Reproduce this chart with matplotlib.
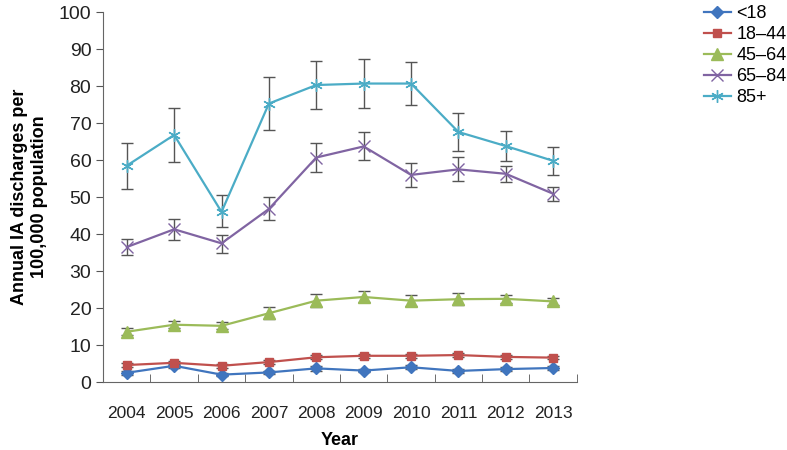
import numpy as np
import matplotlib
matplotlib.use("Agg")
import matplotlib.pyplot as plt

plt.rcParams['font.family'] = ['Liberation Sans', 'DejaVu Sans']

years = ['2004', '2005', '2006', '2007', '2008', '2009', '2010', '2011', '2012', '2013']

u18 = [2.5, 4.4, 2.0, 2.6, 3.7, 3.1, 4.0, 3.0, 3.5, 3.8]
u18_lo = [2.0, 3.8, 1.6, 2.1, 3.1, 2.6, 3.4, 2.5, 3.0, 3.3]
u18_hi = [3.0, 5.0, 2.4, 3.1, 4.3, 3.6, 4.6, 3.5, 4.0, 4.3]

a18 = [4.6, 5.2, 4.4, 5.4, 6.7, 7.1, 7.1, 7.3, 6.8, 6.6]
a18_lo = [4.1, 4.7, 3.9, 4.9, 6.1, 6.5, 6.5, 6.7, 6.3, 6.1]
a18_hi = [5.1, 5.7, 4.9, 5.9, 7.3, 7.7, 7.7, 7.9, 7.3, 7.1]

a45 = [13.6, 15.5, 15.2, 18.6, 22.0, 23.0, 22.0, 22.4, 22.5, 21.8]
a45_lo = [12.8, 14.5, 14.3, 17.0, 20.4, 21.6, 20.6, 20.8, 21.5, 20.9]
a45_hi = [14.5, 16.5, 16.2, 20.3, 23.8, 24.5, 23.4, 24.0, 23.5, 22.7]

a65 = [36.5, 41.3, 37.5, 46.8, 60.7, 63.7, 56.0, 57.5, 56.3, 50.9]
a65_lo = [34.4, 38.5, 35.0, 43.7, 56.7, 59.9, 52.8, 54.4, 54.1, 49.0]
a65_hi = [38.7, 44.2, 39.8, 49.9, 64.7, 67.5, 59.2, 60.8, 58.5, 52.8]

a85 = [58.5, 66.8, 46.0, 75.3, 80.3, 80.7, 80.7, 67.6, 63.8, 59.8]
a85_lo = [52.3, 59.6, 41.8, 68.2, 73.9, 74.2, 74.9, 62.4, 59.7, 55.9]
a85_hi = [64.5, 74.2, 50.5, 82.5, 86.8, 87.4, 86.4, 72.8, 67.9, 63.5]

labels = ['<18', '18\u201344', '45\u201364', '65\u201384', '85+']
series = [(u18, u18_lo, u18_hi), (a18, a18_lo, a18_hi), (a45, a45_lo, a45_hi),
          (a65, a65_lo, a65_hi), (a85, a85_lo, a85_hi)]
colors = ['#4075be', '#c0504d', '#9bbb59', '#8064a2', '#4bacc6']
markers = ['D', 's', '^', 'x', '*']
msizes = [6, 6, 8, 8, 9]

fig = plt.figure(figsize=(7.87, 4.5), dpi=100)
ax = fig.add_axes([0.131, 0.151, 0.602, 0.822])
x = np.arange(len(years))

for (v, lo, hi), c, m, ms, lab in zip(series, colors, markers, msizes, labels):
    v = np.array(v); lo = np.array(lo); hi = np.array(hi)
    ax.errorbar(x, v, yerr=[v - lo, hi - v], fmt='none', ecolor='#555555',
                elinewidth=1, capsize=4, capthick=1, zorder=2)
    if m in ('x', '*'):
        ax.plot(x, v, color=c, lw=1.6, marker='x' if m == 'x' else (6, 2, 0),
                ms=ms, mew=1.0, mec=c, label=lab, zorder=3)
    else:
        ax.plot(x, v, color=c, lw=1.6, marker=m, ms=ms, mec=c, label=lab, zorder=3)

ax.set_xlim(-0.5, len(years) - 0.5)
ax.set_ylim(0, 100)
ax.set_yticks(range(0, 101, 10))
ax.set_xticks(x)
ax.set_xticklabels(years)
ax.set_xticks(np.arange(-0.5, len(years), 1), minor=True)
ax.tick_params(axis='x', which='major', length=0, labelsize=12.5, pad=17, colors='#222222')
ax.tick_params(axis='x', which='minor', length=6, direction='in', color='#555555')
ax.tick_params(axis='y', labelsize=14, length=5, color='#555555', colors='#222222')
for s in ['top', 'right']:
    ax.spines[s].set_visible(False)
for s in ['left', 'bottom']:
    ax.spines[s].set_color('#666666')

ax.set_xlabel('Year', fontsize=13, fontweight='bold', labelpad=8)
ax.set_ylabel('Annual IA discharges per\n100,000 population', fontsize=13,
              fontweight='bold', labelpad=8)

fig.legend(loc='upper left', bbox_to_anchor=(0.885, 1.005), frameon=False, fontsize=13,
           handlelength=1.5, labelspacing=0.22, handletextpad=0.3, borderaxespad=0)

fig.savefig('out.png', dpi=100)
